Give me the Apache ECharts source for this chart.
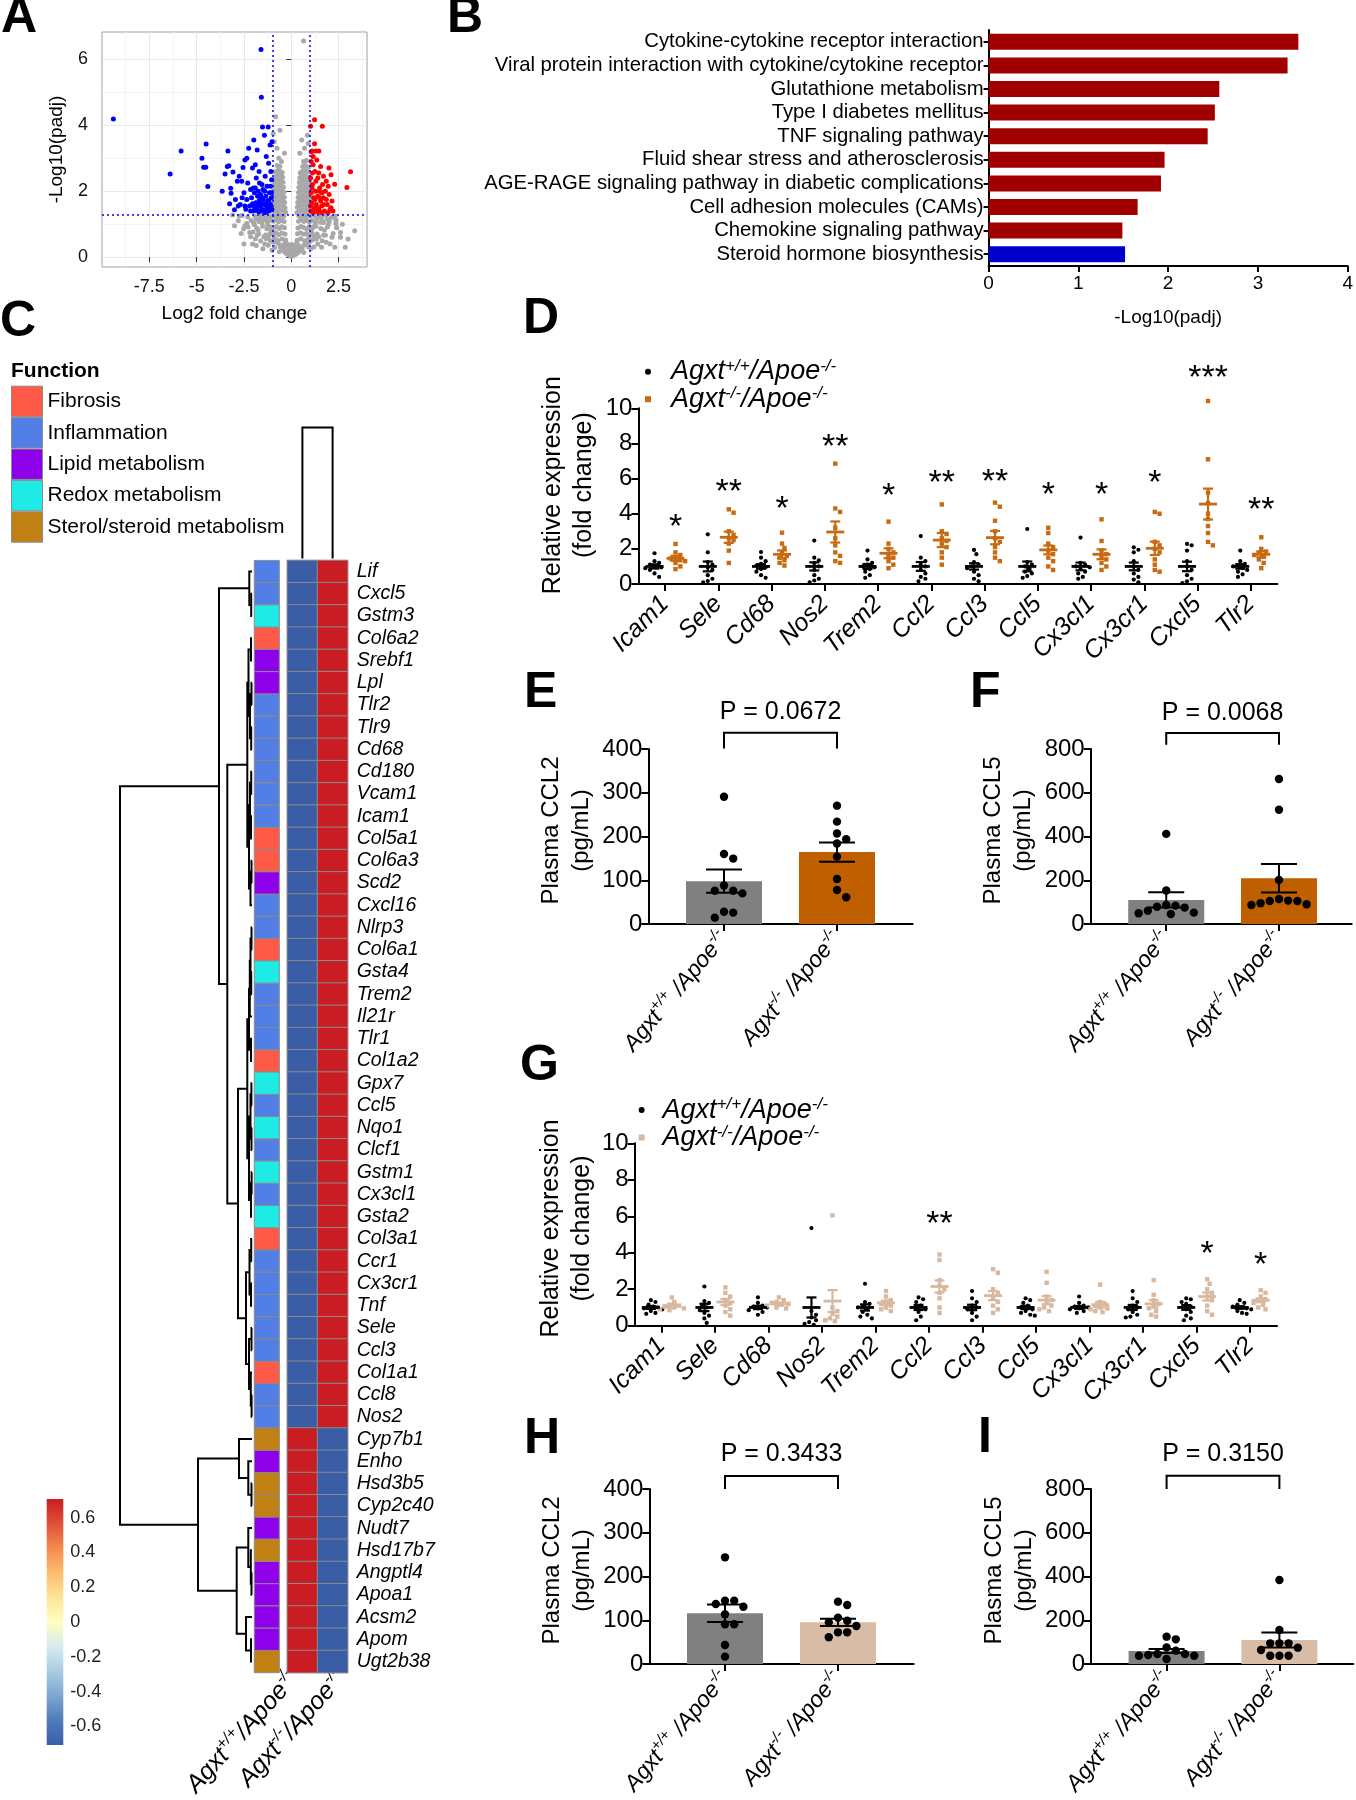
<!DOCTYPE html>
<html><head><meta charset="utf-8">
<script src="https://cdn.jsdelivr.net/npm/echarts@6/dist/echarts.min.js"></script>
<style>html,body{margin:0;padding:0;background:#fff}#c{width:1356px;height:1800px}</style>
</head><body><div id="c"></div>
<script>
// ================= DATA =================
// A: volcano plot  [log2FC, -log10(padj)]
const volcanoGray = [
[0.00,0.02],[-0.08,0.05],[0.09,0.04],[-0.18,0.08],[0.19,0.07],[-0.28,0.12],[0.27,0.10],[-0.38,0.17],[0.37,0.15],[-0.48,0.24],[0.47,0.21],[-0.58,0.30],[0.57,0.27],[-0.04,0.13],[0.05,0.11],[-0.14,0.19],[0.15,0.17],[-0.24,0.26],[0.23,0.22],[-0.33,0.31],[0.33,0.28],[-0.43,0.37],[0.43,0.34],[-0.68,0.41],[0.69,0.37],[-0.78,0.46],[0.79,0.43],[-0.12,0.32],[0.13,0.29],[-0.21,0.40],[0.21,0.37],[-0.88,0.29],[0.91,0.31],[-1.02,0.21],[1.04,0.26],[-1.22,0.36],[1.19,0.31],[-0.64,0.16],[0.66,0.14],[-0.02,0.24],[0.02,0.38],[-0.30,0.45],[0.30,0.44],
[-0.30,0.52],[-0.49,0.55],[-0.71,0.51],[-0.90,0.58],[-1.10,0.50],[-1.32,0.56],[-1.62,0.49],
[-0.33,0.70],[-0.50,0.73],[-0.66,0.68],[-0.81,0.74],[-0.96,0.69],[-1.12,0.72],[-1.36,0.67],[-1.72,0.71],[-2.02,0.76],
[-0.36,0.89],[-0.51,0.92],[-0.64,0.87],[-0.79,0.93],[-0.94,0.88],[-1.11,0.91],[-1.29,0.86],[-1.52,0.94],[-1.83,0.88],[-2.28,0.91],[-2.52,0.86],
[-0.38,1.08],[-0.53,1.12],[-0.67,1.07],[-0.81,1.13],[-0.95,1.09],[-1.09,1.12],[-1.26,1.06],[-1.46,1.13],[-1.71,1.08],[-2.12,1.11],
[-0.40,1.24],[-0.55,1.27],[-0.69,1.22],[-0.84,1.28],[-0.97,1.25],[-1.16,1.23],[-1.41,1.27],[-1.92,1.24],[-2.61,1.26],[-3.10,1.28],
[-0.30,1.36],[-0.42,1.40],[-0.57,1.43],[-0.71,1.38],[-0.85,1.42],[-0.96,1.39],
[-0.33,1.50],[-0.44,1.55],[-0.58,1.58],[-0.72,1.53],[-0.86,1.57],[-0.97,1.54],
[-0.35,1.66],[-0.46,1.70],[-0.60,1.73],[-0.74,1.68],[-0.88,1.72],[-0.98,1.69],
[-0.37,1.82],[-0.48,1.85],[-0.62,1.88],[-0.76,1.83],[-0.90,1.87],[-0.99,1.80],
[-0.39,1.97],[-0.50,2.00],[-0.64,2.03],[-0.78,1.98],[-0.93,2.02],
[-0.41,2.12],[-0.52,2.15],[-0.66,2.18],[-0.80,2.13],[-0.95,2.17],
[-0.44,2.27],[-0.55,2.30],[-0.68,2.33],[-0.83,2.28],[-0.96,2.34],
[-0.46,2.42],[-0.56,2.45],[-0.70,2.48],[-0.85,2.43],
[-0.48,2.57],[-0.58,2.60],[-0.72,2.63],[-0.88,2.58],
[-0.60,2.75],[-0.74,2.78],
[-0.83,4.26],[-0.60,3.85],[-0.36,3.15],[-0.90,3.50],[-0.75,3.30],[-0.52,2.90],[-0.66,3.00],[-0.95,3.75],
[0.31,0.51],[0.50,0.56],[0.70,0.50],[0.91,0.57],[1.11,0.52],[1.31,0.55],[1.63,0.50],
[0.33,0.71],[0.49,0.74],[0.66,0.69],[0.80,0.72],[0.96,0.68],[1.10,0.73],[1.36,0.70],[1.71,0.67],[2.21,0.72],
[0.35,0.88],[0.51,0.93],[0.65,0.90],[0.81,0.86],[0.95,0.92],[1.12,0.89],[1.30,0.94],[1.56,0.87],[1.91,0.91],[2.40,0.89],
[0.38,1.09],[0.52,1.13],[0.66,1.08],[0.81,1.12],[0.95,1.06],[1.10,1.11],[1.31,1.08],[1.61,1.13],[2.01,1.07],[2.36,1.12],
[0.40,1.25],[0.56,1.28],[0.70,1.23],[0.85,1.27],[0.98,1.24],[1.21,1.26],[1.51,1.23],[1.82,1.27],[2.31,1.25],
[0.30,1.35],[0.42,1.40],[0.56,1.43],[0.70,1.38],[0.84,1.42],[0.97,1.39],
[0.32,1.51],[0.44,1.55],[0.58,1.58],[0.72,1.53],[0.86,1.57],[0.98,1.54],
[0.34,1.66],[0.46,1.70],[0.60,1.73],[0.74,1.68],[0.88,1.72],[0.99,1.69],
[0.36,1.81],[0.48,1.85],[0.62,1.88],[0.76,1.83],[0.90,1.87],[0.99,1.82],
[0.38,1.96],[0.50,2.00],[0.64,2.03],[0.78,1.98],[0.92,2.02],
[0.40,2.11],[0.52,2.15],[0.66,2.18],[0.80,2.13],[0.95,2.17],
[0.43,2.26],[0.55,2.30],[0.68,2.33],[0.82,2.28],[0.96,2.32],
[0.45,2.41],[0.56,2.45],[0.70,2.48],[0.85,2.43],
[0.47,2.56],[0.58,2.60],[0.72,2.63],[0.90,2.58],
[0.60,2.75],[0.75,2.78],[0.92,2.73],
[0.65,2.90],[0.80,2.93],
[0.65,6.56],[0.55,3.55],[0.85,3.70],[0.70,3.30],[0.45,3.15],[0.90,3.45],
[-2.50,0.40],[-2.20,0.75],[-1.90,0.55],[-2.00,1.05],[2.30,0.30],[3.35,0.80],[2.40,0.90],[2.60,0.60],[-1.50,0.25],[1.60,0.30],[2.10,1.20],[-2.80,1.10],[2.70,1.00],[-1.85,0.35],[1.85,0.45],[-2.45,0.95],[-1.65,1.20],[1.70,1.05],
[-1.45,0.62],[-1.75,0.82],[-2.15,0.62],[-2.35,1.02],[-1.25,0.98],[-1.55,1.05],[-1.95,0.98],[-2.65,0.72],[-3.00,0.95],[-1.05,0.80],[-1.20,0.62],[-0.95,0.45],[-1.40,0.40],[-1.80,0.66],[-2.05,0.40],[-2.30,1.22],[-2.75,1.25],[-1.35,1.18],[-1.60,1.27],[-1.85,1.15],
[1.45,0.62],[1.75,0.82],[2.15,0.60],[2.35,1.02],[1.25,0.98],[1.55,1.05],[1.95,0.98],[2.60,0.75],[1.05,0.80],[1.20,0.62],[0.95,0.45],[1.40,0.40],[1.80,0.66],[2.05,0.40],[2.25,1.22],[1.35,1.18],[1.65,1.27],[1.90,1.15],[3.00,0.55],[2.85,0.30]
];
const volcanoDown = [
[-9.40,4.19],[-6.40,2.52],[-5.82,3.22],[-4.50,3.43],[-4.72,3.00],[-4.63,2.73],[-4.52,2.73],[-4.41,2.14],[-3.65,2.00],[-3.35,3.22],[-3.30,2.77],[-3.38,2.75],[-3.50,2.52],[-3.08,2.58],[-3.20,2.09],[-3.18,1.94],[-3.26,1.62],[-3.00,1.44],[-2.95,1.75],[-2.85,2.30],[-2.75,2.45],[-2.70,1.60],[-2.62,2.30],[-2.55,2.72],[-2.50,1.95],[-2.45,2.95],[-2.40,1.45],[-2.35,1.75],[-2.30,2.25],[-2.25,3.30],[-2.20,1.55],[-2.15,2.05],[-2.10,1.80],[-2.05,2.70],[-2.00,1.40],[-1.98,3.55],[-1.95,1.95],[-1.90,2.10],[-1.88,1.65],[-1.85,2.40],[-1.82,1.50],[-1.80,3.25],[-1.78,1.85],[-1.75,2.00],[-1.72,1.38],[-1.70,1.70],[-1.68,2.25],[-1.65,1.55],[-1.62,1.90],[-1.60,6.30],[-1.58,4.85],[-1.55,1.45],[-1.52,3.95],[-1.50,2.05],[-1.48,1.75],[-1.45,1.60],[-1.42,3.70],[-1.40,1.35],[-1.38,2.45],[-1.35,1.85],[-1.32,3.05],[-1.30,1.50],[-1.28,2.15],[-1.25,1.70],[-1.22,3.95],[-1.20,2.85],[-1.18,1.40],[-1.15,1.95],[-1.12,3.40],[-1.10,1.60],[-1.08,2.60],[-1.06,1.80],[-1.04,2.35],[-1.03,1.45],[-1.02,3.50],[-1.55,1.62],[-1.65,1.40],[-1.75,1.58],[-1.85,1.42],[-1.95,1.52],[-2.05,1.62],[-1.15,1.52],[-1.25,1.48],[-1.35,1.62],[-1.45,1.42],[-1.10,2.15],[-1.20,1.72],[-1.30,1.38],[-2.60,1.80],[-2.80,1.55],[-1.70,2.60],[-2.35,3.00],[-1.90,2.80],[-2.00,2.10],[-1.40,2.00],[-1.60,1.80],[-2.15,1.40],[-2.45,1.55],[-1.55,2.20],[-1.05,1.95]
];
const volcanoUp = [
[1.23,4.17],[1.64,3.97],[1.02,3.97],[1.23,3.44],[1.10,3.22],[1.30,3.22],[1.46,3.22],[3.13,2.59],[2.94,2.11],[2.29,2.21],[1.99,2.70],[2.10,2.50],[1.05,2.90],[1.15,2.80],[1.35,2.95],[1.55,2.75],[1.25,2.60],[1.45,2.55],[1.70,2.45],[1.85,2.30],[1.02,2.40],[1.12,2.20],[1.30,2.30],[1.50,2.10],[1.65,2.20],[1.80,2.00],[2.00,1.90],[2.15,1.70],[1.05,1.95],[1.18,1.80],[1.28,2.00],[1.40,1.85],[1.55,1.70],[1.70,1.80],[1.90,1.60],[2.05,1.45],[1.08,1.65],[1.20,1.50],[1.32,1.60],[1.45,1.45],[1.60,1.55],[1.75,1.40],[1.95,1.35],[2.10,1.50],[1.03,1.40],[1.15,1.35],[1.38,1.38],[1.50,1.80],[1.62,1.95],[1.25,1.75],[1.10,2.10],[1.35,1.50],[1.48,2.00],[1.85,1.75],[1.40,2.40],[1.58,1.35],[1.22,1.42],[1.72,1.60],[2.20,1.40],[1.02,1.55],[1.12,2.55],[1.95,2.15],[1.05,3.20],[1.15,3.05]
];
const lfcCut = 1;
const padjCut = 1.301;

// B: KEGG enrichment
const keggTerms = ['Cytokine-cytokine receptor interaction','Viral protein interaction with cytokine/cytokine receptor','Glutathione metabolism','Type I diabetes mellitus','TNF signaling pathway','Fluid shear stress and atherosclerosis','AGE-RAGE signaling pathway in diabetic complications','Cell adhesion molecules (CAMs)','Chemokine signaling pathway','Steroid hormone biosynthesis'];
const keggValues = [3.45,3.33,2.57,2.52,2.44,1.96,1.92,1.66,1.49,1.52];
const keggDirection = ['up','up','up','up','up','up','up','up','up','down'];

// C: heatmap
const heatGenes = ['Lif','Cxcl5','Gstm3','Col6a2','Srebf1','Lpl','Tlr2','Tlr9','Cd68','Cd180','Vcam1','Icam1','Col5a1','Col6a3','Scd2','Cxcl16','Nlrp3','Col6a1','Gsta4','Trem2','Il21r','Tlr1','Col1a2','Gpx7','Ccl5','Nqo1','Clcf1','Gstm1','Cx3cl1','Gsta2','Col3a1','Ccr1','Cx3cr1','Tnf','Sele','Ccl3','Col1a1','Ccl8','Nos2','Cyp7b1','Enho','Hsd3b5','Cyp2c40','Nudt7','Hsd17b7','Angptl4','Apoa1','Acsm2','Apom','Ugt2b38'];
const functionNames = ['Fibrosis','Inflammation','Lipid metabolism','Redox metabolism','Sterol/steroid metabolism'];
const heatFunction = ['Inflammation','Inflammation','Redox metabolism','Fibrosis','Lipid metabolism','Lipid metabolism','Inflammation','Inflammation','Inflammation','Inflammation','Inflammation','Inflammation','Fibrosis','Fibrosis','Lipid metabolism','Inflammation','Inflammation','Fibrosis','Redox metabolism','Inflammation','Inflammation','Inflammation','Fibrosis','Redox metabolism','Inflammation','Redox metabolism','Inflammation','Redox metabolism','Inflammation','Redox metabolism','Fibrosis','Inflammation','Inflammation','Inflammation','Inflammation','Inflammation','Fibrosis','Inflammation','Inflammation','Sterol/steroid metabolism','Lipid metabolism','Sterol/steroid metabolism','Sterol/steroid metabolism','Lipid metabolism','Sterol/steroid metabolism','Lipid metabolism','Lipid metabolism','Lipid metabolism','Lipid metabolism','Sterol/steroid metabolism'];
const heatSamples = ['WT','KO'];
const heatWT = [-0.707,-0.707,-0.707,-0.707,-0.707,-0.707,-0.707,-0.707,-0.707,-0.707,-0.707,-0.707,-0.707,-0.707,-0.707,-0.707,-0.707,-0.707,-0.707,-0.707,-0.707,-0.707,-0.707,-0.707,-0.707,-0.707,-0.707,-0.707,-0.707,-0.707,-0.707,-0.707,-0.707,-0.707,-0.707,-0.707,-0.707,-0.707,-0.707,0.707,0.707,0.707,0.707,0.707,0.707,0.707,0.707,0.707,0.707,0.707];
const heatKO = [0.707,0.707,0.707,0.707,0.707,0.707,0.707,0.707,0.707,0.707,0.707,0.707,0.707,0.707,0.707,0.707,0.707,0.707,0.707,0.707,0.707,0.707,0.707,0.707,0.707,0.707,0.707,0.707,0.707,0.707,0.707,0.707,0.707,0.707,0.707,0.707,0.707,0.707,0.707,-0.707,-0.707,-0.707,-0.707,-0.707,-0.707,-0.707,-0.707,-0.707,-0.707,-0.707];
// row dendrogram: [left, right, mergeHeight]; numbers are row indices
const rowTree = [
  [
    [0, [1, 2, 0.08], 0.27],
    [
      [[[3,4,0.1],[[5,6,0.05],[7,8,0.08],0.2],0.35],[[[9,10,0.08],[11,12,0.1],0.2],[[13,14,0.05],15,0.15],0.3],0.47],
      [
        [[[[[16,17,0.05],[18,19,0.08],0.15],20,0.22],[21,22,0.1],0.3],[[[23,24,0.06],[25,26,0.05],0.15],[[27,28,0.04],29,0.1],0.3],0.47],
        [[[30,31,0.08],[32,33,0.1],0.25],[[34,35,0.05],[36,[37,38,0.04],0.12],0.3],0.6],
        1.4
      ],
      2.47
    ],
    3.3
  ],
  [
    [39, [40, [41, 42, 0.05], 0.37], 1.3],
    [[43, [44, [45, 46, 0.05], 0.12], 0.37], [47, [48, 49, 0.1], 0.6], 1.53],
    5.4
  ],
  13.2
];
const colTreeHeight = 1;
const colorbarMin = -0.707, colorbarMax = 0.707;
const colorbarTicks = [-0.6,-0.4,-0.2,0,0.2,0.4,0.6];

// D and G: qPCR
const qpcrGenes = ['Icam1','Sele','Cd68','Nos2','Trem2','Ccl2','Ccl3','Ccl5','Cx3cl1','Cx3cr1','Cxcl5','Tlr2'];
const dWT = [
 [1.75,1.3,1.2,1.1,1.0,0.95,0.9,0.8,0.6,0.4],
 [2.83,1.8,1.25,1.1,0.95,0.8,0.5,0.3,0.17,0.1],
 [1.82,1.5,1.3,1.15,1.05,0.95,0.85,0.7,0.5,0.35],
 [2.47,1.5,1.35,1.2,1.0,0.8,0.5,0.3,0.2,0.1],
 [1.9,1.4,1.2,1.1,1.0,0.95,0.85,0.7,0.5,0.35],
 [2.73,1.5,1.3,1.1,1.0,0.8,0.6,0.4,0.3,0.15],
 [1.94,1.7,1.25,1.1,1.0,0.9,0.7,0.5,0.3,0.15],
 [3.13,1.25,1.1,1.0,0.85,0.7,0.6,0.45,0.35],
 [2.64,1.2,1.1,1.0,0.95,0.85,0.7,0.6,0.4,0.3],
 [2.09,1.95,1.8,1.3,1.0,0.8,0.6,0.4,0.25,0.1],
 [2.28,2.2,1.9,1.3,1.0,0.8,0.5,0.3,0.15,0.05],
 [1.9,1.3,1.15,1.05,1.0,0.9,0.8,0.7,0.55,0.4]
];
const dKO = [
 [2.28,1.8,1.65,1.5,1.45,1.35,1.3,1.2,1.0,0.85],
 [4.25,4.06,3.0,2.8,2.6,2.5,2.3,1.9,1.2],
 [2.92,2.3,2.05,1.75,1.6,1.5,1.35,1.2,1.05],
 [6.85,4.3,4.1,3.2,2.6,2.2,1.8,1.6,1.3,1.2],
 [3.55,2.3,2.0,1.8,1.6,1.5,1.3,1.1,0.9],
 [4.53,3.0,2.85,2.6,2.45,2.3,2.1,1.8,1.5,1.1],
 [4.63,4.4,3.6,3.0,2.6,2.4,2.1,1.8,1.5,1.3],
 [3.2,2.9,2.3,2.1,1.9,1.7,1.5,1.3,1.0,0.8],
 [3.68,2.45,1.9,1.7,1.55,1.4,1.2,1.0,0.8],
 [4.1,4.0,2.4,2.2,2.0,1.8,1.4,1.1,0.8,0.7],
 [10.42,7.1,5.2,4.6,4.0,3.7,3.3,2.9,2.4,2.2],
 [2.66,2.0,1.85,1.75,1.65,1.55,1.4,1.2,0.9]
];
const dWTMean = [1,1,1,1,1,1,1,1,1,1,1,1];
const dWTSem = [0.12,0.28,0.13,0.23,0.14,0.25,0.18,0.28,0.22,0.22,0.27,0.13];
const dKOMean = [1.46,2.66,1.69,2.96,1.75,2.5,2.64,1.94,1.69,2.03,4.55,1.69];
const dKOSem = [0.15,0.32,0.22,0.6,0.28,0.4,0.38,0.25,0.28,0.38,0.88,0.17];
const dStars = ['*','**','*','**','*','**','**','*','*','*','***','**'];
const dStarY = [3.6,5.6,4.65,8.18,5.39,6.09,6.17,5.41,5.45,6.09,12.09,4.57];

const gWT = [
 [1.4,1.3,1.15,1.05,1.0,0.95,0.9,0.8,0.7,0.65],
 [2.15,1.35,1.25,1.1,1.0,0.85,0.7,0.55,0.4,0.15],
 [1.55,1.25,1.1,1.05,1.0,0.95,0.85,0.75,0.6],
 [5.35,0.8,0.6,0.45,0.3,0.2,0.1,0.05],
 [2.3,1.3,1.2,1.05,1.0,0.9,0.75,0.6,0.5,0.4],
 [1.55,1.45,1.3,1.1,1.0,0.9,0.75,0.5,0.3],
 [1.9,1.5,1.3,1.1,1.0,0.9,0.7,0.5,0.3],
 [1.5,1.4,1.25,1.1,1.0,0.9,0.8,0.7,0.6,0.55],
 [1.6,1.25,1.1,1.05,1.0,0.95,0.9,0.8,0.7],
 [1.9,1.5,1.3,1.1,1.0,0.9,0.75,0.6,0.5,0.45],
 [1.5,1.45,1.3,1.2,1.05,0.9,0.75,0.55,0.4,0.3],
 [1.4,1.25,1.15,1.05,1.0,0.95,0.9,0.8,0.7,0.65]
];
const gKO = [
 [1.55,1.3,1.15,1.1,1.05,1.0,0.95,0.9,0.85],
 [2.1,1.8,1.6,1.4,1.25,1.1,0.9,0.75,0.55],
 [1.55,1.4,1.3,1.25,1.2,1.15,1.1,1.0,0.95],
 [6.05,1.0,0.8,0.65,0.5,0.4,0.3,0.25],
 [1.9,1.6,1.4,1.3,1.2,1.1,1.0,0.9,0.8],
 [3.9,3.6,2.5,2.2,2.0,1.8,1.5,1.0,0.7],
 [3.1,2.9,2.0,1.8,1.5,1.3,1.1,0.9,0.7],
 [2.95,2.35,1.6,1.4,1.25,1.1,1.0,0.9,0.8],
 [2.25,1.3,1.2,1.1,1.0,0.95,0.9,0.8,0.75],
 [2.5,1.7,1.4,1.2,1.05,0.95,0.8,0.6,0.5],
 [2.55,2.3,2.0,1.8,1.6,1.4,1.1,0.8,0.6],
 [1.95,1.8,1.6,1.45,1.35,1.25,1.15,1.0,0.9]
];
const gWTMean = [1,1,1,1,1,1,1,1,1,1,1,1];
const gWTSem = [0.08,0.2,0.09,0.55,0.17,0.14,0.15,0.09,0.08,0.14,0.13,0.07];
const gKOMean = [1.1,1.3,1.2,1.35,1.25,2.15,1.65,1.4,1.15,1.2,1.6,1.4];
const gKOSem = [0.08,0.17,0.07,0.6,0.13,0.33,0.25,0.22,0.15,0.2,0.22,0.1];
const gStars = ['','','','','','**','','','','','*','*'];
const gStarY = [0,0,0,0,0,5.94,0,0,0,0,4.3,3.69];

// E, F, H, I: plasma chemokines (pg/mL)
const eWT = [291,160,149.5,76,70,76,88,28,26,14.5];
const eKO = [270.5,234,207,194,184,154,103,77.7,61];
const eMean = [98,164.5], eSem = [26.7,22];
const eP = 'P = 0.0672', eBracket = [401,437,485];
const fWT = [412,153,61,52,75,79,87,49,84,46];
const fKO = [662.6,522,201.5,105,105,95,107,90,114.5,87];
const fMean = [110,209], fSem = [35,65];
const fP = 'P = 0.0068', fBracket = [820,873,965];
const hWT = [243.8,131,144.8,144.8,137,113.5,90.7,90.7,43.4,16.8];
const hKO = [142.5,134.9,86.9,72.4,95.2,105.9,99,72.4,61];
const hMean = [116,95.2], hSem = [20,8.5];
const hP = 'P = 0.3433', hBracket = [400,430,480];
const iWT = [125,112.8,45.7,45.7,38,38,76,41,61,22.9];
const iKO = [384,155.4,74.7,94.5,94.5,94.5,64,38,38,38];
const iMean = [59.4,109.7], iSem = [9,34];
const iP = 'P = 0.3150', iBracket = [800,861,960];

// ================= RENDER =================
const FONT = '"Liberation Sans", Arial, Helvetica, sans-serif';
const chart = echarts.init(document.getElementById('c'));
const heatColors = ['#3A5DA6','#4F7CBA','#7BA7D0','#A9CCE3','#D7EBF1','#FFFFBF','#FEE39A','#FDBD6F','#F58A4F','#E0503A','#C91D23'];
const funcColors = {'Fibrosis':'#FF5A47','Inflammation':'#527FE6','Lipid metabolism':'#8E00EA','Redox metabolism':'#1EEBE6','Sterol/steroid metabolism':'#C08014'};
const ORANGE_DOT = '#C86A10', ORANGE_BAR = '#BF5F00', BEIGE_DOT = '#D8B89E', BEIGE_BAR = '#D8BCA6', GRAY_BAR = '#808080';

const grids = [], xAxes = [], yAxes = [], series = [];
function addGrid(g, x, y) {
  grids.push(Object.assign({containLabel:false}, g));
  const i = grids.length - 1;
  xAxes.push(Object.assign({gridIndex:i}, x));
  yAxes.push(Object.assign({gridIndex:i}, y));
  return i;
}
function richSup(base, sup, lh) {
  return {
    i:{fontStyle:'italic', fontSize:base, lineHeight:lh || base+6, fontFamily:FONT, color:'#000'},
    s:{fontStyle:'italic', fontSize:sup, lineHeight:sup, verticalAlign:'top', fontFamily:FONT, color:'#000'}
  };
}
const genoLabel = (g, sp) => g === 'WT' ? '{i|Agxt}{s|+/+}{i|' + sp + '/Apoe}{s|-/-}' : '{i|Agxt}{s|-/-}{i|' + sp + '/Apoe}{s|-/-}';
const hidden = {show:false};
const blackLine = {show:true, onZero:false, lineStyle:{color:'#000', width:2}};
const blackTick = {show:true, length:7, lineStyle:{color:'#000', width:2}};

function swarm(values, pxPerUnit, step) {
  const order = values.map((v,i)=>i).sort((a,b)=>values[b]-values[a]);
  const placed = [], out = new Array(values.length).fill(0);
  for (const i of order) {
    const y = values[i]*pxPerUnit;
    let k = 0, done = false;
    while (!done) {
      const cands = k === 0 ? [0] : [k*step/2, -k*step/2];
      for (const x of cands) {
        if (!placed.some(p => Math.hypot(p.x-x, p.y-y) < step - 0.01)) { placed.push({x,y}); out[i] = x; done = true; break; }
      }
      k++;
    }
  }
  return out;
}
function dotSeries(name, gi, groups, offsetPx, color, shape, size, pxPerUnit, step) {
  const data = [];
  groups.forEach((vals, c) => { const off = swarm(vals, pxPerUnit, step); vals.forEach((v,j)=>data.push([c, v, off[j]])); });
  series.push({
    type:'custom', name, xAxisIndex:gi, yAxisIndex:gi, data, encode:{x:0,y:1}, clip:false, silent:true,
    itemStyle:{color},
    renderItem:(params, api) => {
      const p = api.coord([api.value(0), api.value(1)]);
      const x = p[0] + offsetPx + api.value(2);
      if (shape === 'circle') return {type:'circle', shape:{cx:x, cy:p[1], r:size/2}, style:{fill:color}};
      return {type:'rect', shape:{x:x-size/2, y:p[1]-size/2, width:size, height:size}, style:{fill:color}};
    }
  });
}
function meanSemSeries(gi, means, sems, offsetPx, color, meanHalf, capHalf, lw) {
  series.push({
    type:'custom', xAxisIndex:gi, yAxisIndex:gi, clip:false, silent:true, z:4,
    data: means.map((m,i)=>[i, m, sems[i]]), encode:{x:0,y:1},
    renderItem:(params, api) => {
      const c = api.value(0), m = api.value(1), s = api.value(2);
      const pm = api.coord([c, m]), pt = api.coord([c, m+s]), pb = api.coord([c, m-s]);
      const x = pm[0] + offsetPx;
      const st = {stroke:color, lineWidth:lw};
      const ch = [
        {type:'line', shape:{x1:x, y1:pt[1], x2:x, y2:pb[1]}, style:st},
        {type:'line', shape:{x1:x-capHalf, y1:pt[1], x2:x+capHalf, y2:pt[1]}, style:st},
        {type:'line', shape:{x1:x-capHalf, y1:pb[1], x2:x+capHalf, y2:pb[1]}, style:st}
      ];
      if (meanHalf > 0) ch.push({type:'line', shape:{x1:x-meanHalf, y1:pm[1], x2:x+meanHalf, y2:pm[1]}, style:{stroke:color, lineWidth:lw+0.6}});
      return {type:'group', children:ch};
    }
  });
}
function starSeries(gi, stars, ys, offsetPx) {
  const data = [];
  stars.forEach((s,i)=>{ if (s) data.push([i, ys[i], s]); });
  series.push({
    type:'custom', xAxisIndex:gi, yAxisIndex:gi, clip:false, silent:true, z:5,
    data: data.map(d=>[d[0], d[1]]), encode:{x:0,y:1},
    renderItem:(params, api) => {
      const p = api.coord([api.value(0), api.value(1)]);
      return {type:'text', x:p[0]+offsetPx, y:p[1]+7, style:{text:data[params.dataIndex][2], fontSize:34, fontFamily:FONT, fill:'#000', align:'center', verticalAlign:'middle'}};
    }
  });
}

// ---------- Panel A ----------
const gA = addGrid({left:102, top:32, width:265, height:235, show:true, borderColor:'#a0a0a0', borderWidth:1},
  {type:'value', min:-10, max:4, interval:2.5,
   axisLine:hidden, axisTick:{show:true, customValues:[-7.5,-5,-2.5,0,2.5], length:5, lineStyle:{color:'#333'}},
   axisLabel:{customValues:[-7.5,-5,-2.5,0,2.5], fontSize:18, color:'#111', margin:11},
   splitLine:{show:true, lineStyle:{color:'#e8e8e8'}}, minorTick:{show:false, splitNumber:2}, minorSplitLine:{show:true, lineStyle:{color:'#f4f4f4'}},
   name:'Log2 fold change', nameLocation:'middle', nameGap:37, nameTextStyle:{fontSize:19, color:'#000'}},
  {type:'value', min:-0.3, max:6.83, splitNumber:3,
   axisLine:hidden, axisTick:{show:true, customValues:[0,2,4,6], length:5, lineStyle:{color:'#333'}},
   axisLabel:{customValues:[0,2,4,6], fontSize:18, color:'#111', margin:14},
   splitLine:{show:true, lineStyle:{color:'#e8e8e8'}}, minorTick:{show:false, splitNumber:2}, minorSplitLine:{show:true, lineStyle:{color:'#f4f4f4'}},
   name:'-Log10(padj)', nameLocation:'middle', nameGap:36, nameTextStyle:{fontSize:19, color:'#000'}});
series.push({type:'scatter', xAxisIndex:gA, yAxisIndex:gA, data:volcanoGray, symbolSize:5, itemStyle:{color:'#A8A8A8', opacity:1}, silent:true, z:2});
series.push({type:'scatter', xAxisIndex:gA, yAxisIndex:gA, data:volcanoDown, symbolSize:5, itemStyle:{color:'#0000FF', opacity:1}, silent:true, z:3});
series.push({type:'scatter', xAxisIndex:gA, yAxisIndex:gA, data:volcanoUp, symbolSize:5, itemStyle:{color:'#FF0000', opacity:1}, silent:true, z:3});
series.push({type:'scatter', xAxisIndex:gA, yAxisIndex:gA, data:[], z:6, silent:true,
  markLine:{silent:true, symbol:'none', label:{show:false}, lineStyle:{color:'#0000FF', type:[2,3], width:1.5},
    data:[{xAxis:-lfcCut},{xAxis:lfcCut},{yAxis:padjCut}]}});

// ---------- Panel B ----------
const gB = addGrid({left:988.6, top:30, width:361.2, height:236},
  {type:'value', min:0, max:4, interval:1, axisLine:{show:true, lineStyle:{color:'#000', width:2}}, axisTick:{show:true, length:6, lineStyle:{color:'#000', width:2}},
   axisLabel:{fontSize:19, color:'#000', margin:8}, splitLine:{show:false},
   name:'-Log10(padj)', nameLocation:'middle', nameGap:42, nameTextStyle:{fontSize:19, color:'#000'}},
  {type:'category', data:keggTerms, inverse:true, axisLine:{show:true, lineStyle:{color:'#000', width:2}},
   axisTick:{show:true, alignWithLabel:true, interval:0, length:5, lineStyle:{color:'#000', width:2}}, axisLabel:{interval:0, fontSize:20.3, color:'#000', margin:5}});
series.push({type:'bar', xAxisIndex:gB, yAxisIndex:gB, barWidth:16, silent:true,
  data: keggValues.map((v,i)=>({value:v, itemStyle:{color: keggDirection[i]==='up' ? '#A00000' : '#0000CC'}}))});

// ---------- Panel C ----------
const heatTop = 560.4, heatH = 1112.3;
const gAnn = addGrid({left:254.3, top:heatTop, width:25, height:heatH},
  {type:'category', data:['Function'], show:false},
  {type:'category', data:heatGenes, inverse:true, show:false});
functionNames.forEach(fn => {
  const rows = [];
  heatFunction.forEach((f,i)=>{ if (f === fn) rows.push([0, i]); });
  series.push({type:'custom', name:fn, xAxisIndex:gAnn, yAxisIndex:gAnn, data:rows, encode:{x:0,y:1}, silent:true,
    itemStyle:{color:funcColors[fn]},
    renderItem:(params, api) => {
      const p = api.coord([api.value(0), api.value(1)]), s = api.size([1,1]);
      return {type:'rect', shape:{x:p[0]-s[0]/2, y:p[1]-s[1]/2, width:s[0], height:s[1]}, style:{fill:funcColors[fn], stroke:'#8a8a8a', lineWidth:1}};
    }});
});
const gHeat = addGrid({left:287.3, top:heatTop, width:60.4, height:heatH},
  {type:'category', data:heatSamples, show:false},
  {type:'category', data:heatGenes, inverse:true, position:'right', axisLine:hidden, axisTick:hidden,
   axisLabel:{interval:0, fontSize:19.5, fontStyle:'italic', color:'#000', margin:9}});
const heatData = [];
heatGenes.forEach((g,i)=>{ heatData.push([0, i, heatWT[i]]); heatData.push([1, i, heatKO[i]]); });
series.push({id:'heat', type:'heatmap', xAxisIndex:gHeat, yAxisIndex:gHeat, data:heatData, silent:true,
  itemStyle:{borderColor:'#8a8a8a', borderWidth:1}});
// column labels of the heatmap (label-only axis, spread like pheatmap's rotated labels)
const gHeatLab = addGrid({left:270.5, top:heatTop, width:94, height:heatH},
  {type:'category', data:heatSamples, axisLine:hidden, axisTick:hidden,
   axisLabel:{interval:0, rotate:48, margin:9, formatter:(v)=>genoLabel(v, ''), rich:richSup(25, 16)}},
  {type:'value', show:false});

// row dendrogram
const gRow = addGrid({left:120, top:heatTop, width:132, height:heatH},
  {type:'value', min:0, max:rowTree[2], inverse:true, show:false},
  {type:'value', min:-0.5, max:heatGenes.length-0.5, inverse:true, show:false});
const rowSegs = [];
(function layout(node){
  if (typeof node === 'number') return {pos:node, h:0};
  const a = layout(node[0]), b = layout(node[1]), h = node[2];
  rowSegs.push([[a.h, a.pos],[h, a.pos],[h, b.pos],[b.h, b.pos]]);
  return {pos:(a.pos+b.pos)/2, h};
})(rowTree);
series.push({type:'lines', coordinateSystem:'cartesian2d', xAxisIndex:gRow, yAxisIndex:gRow, polyline:true, clip:false, silent:true,
  data: rowSegs.map(c=>({coords:c})), lineStyle:{color:'#000', width:2, opacity:1}});
// column dendrogram
const gCol = addGrid({left:287.3, top:427.5, width:60.4, height:131.1},
  {type:'value', min:-0.5, max:1.5, show:false},
  {type:'value', min:0, max:colTreeHeight, show:false});
series.push({type:'lines', coordinateSystem:'cartesian2d', xAxisIndex:gCol, yAxisIndex:gCol, polyline:true, clip:false, silent:true,
  data:[{coords:[[0,0],[0,colTreeHeight],[1,colTreeHeight],[1,0]]}], lineStyle:{color:'#000', width:2, opacity:1}});
// colorbar
const gCb = addGrid({left:46.7, top:1499, width:16.6, height:246},
  {type:'value', min:0, max:1, show:false},
  {type:'value', min:colorbarMin, max:colorbarMax, position:'right', axisLine:hidden, axisTick:hidden, splitLine:hidden,
   axisLabel:{customValues:colorbarTicks, fontSize:18, color:'#222', margin:7}});
series.push({type:'custom', xAxisIndex:gCb, yAxisIndex:gCb, data:[[0,0]], silent:true, clip:false,
  renderItem:(params, api) => {
    const a = api.coord([0, colorbarMin]), b = api.coord([1, colorbarMax]);
    return {type:'rect', shape:{x:a[0], y:b[1], width:b[0]-a[0], height:a[1]-b[1]},
      style:{fill:new echarts.graphic.LinearGradient(0,1,0,0, heatColors.map((c,i)=>({offset:i/(heatColors.length-1), color:c})))}};
  }});

// ---------- Panels D and G ----------
function qpcrPanel(prefix, grid, wt, ko, wtMean, wtSem, koMean, koSem, stars, starY, koColor, nameGap, nameShift) {
  const gi = addGrid(grid,
    {type:'category', data:qpcrGenes, axisLine:{show:true, lineStyle:{color:'#000', width:2}},
     axisTick:{show:true, alignWithLabel:true, length:7, lineStyle:{color:'#000', width:2}},
     axisLabel:{interval:0, rotate:45, fontSize:25, fontStyle:'italic', color:'#000', margin:16}},
    {type:'value', min:0, max:10, interval:2, axisLine:blackLine, axisTick:blackTick,
     axisLabel:{fontSize:24, color:'#000', margin:6}, splitLine:hidden,
     name:'Relative expression\n(fold change)', nameLocation:'middle', nameGap:nameGap,
     nameTextStyle:{fontSize:25, lineHeight:31, color:'#000', padding:[0,0,0,nameShift]}});
  const ppu = grid.height/10;
  dotSeries(prefix+'_WT', gi, wt, -10.5, '#000', 'circle', 4.2, ppu, 4.6);
  dotSeries(prefix+'_KO', gi, ko, 10.5, koColor, 'rect', 4.4, ppu, 4.8);
  meanSemSeries(gi, wtMean, wtSem, -10.5, '#000', 9, 5, 2.2);
  meanSemSeries(gi, koMean, koSem, 10.5, koColor, 9, 5, 2.2);
  starSeries(gi, stars, starY, 10.5);
  return gi;
}
qpcrPanel('D', {left:638.4, top:408.3, width:639, height:175.7}, dWT, dKO, dWTMean, dWTSem, dKOMean, dKOSem, dStars, dStarY, ORANGE_DOT, 39, 22);
qpcrPanel('G', {left:634.6, top:1143.3, width:642.4, height:182.4}, gWT, gKO, gWTMean, gWTSem, gKOMean, gKOSem, gStars, gStarY, BEIGE_DOT, 35, 12);

// ---------- Panels E F H I ----------
const plasmaRich = richSup(23, 15);
function plasmaPanel(grid, xmax, ymax, yint, yname, wt, ko, mean, sem, koColor, pText, bracket, nameGap) {
  const gi = addGrid(grid,
    {type:'value', min:-0.67, max:xmax, axisLine:blackLine,
     axisTick:{show:true, customValues:[0,1], length:7, lineStyle:{color:'#000', width:2}},
     axisLabel:{customValues:[0,1], rotate:50, margin:11, formatter:(v)=>genoLabel(v===0 ? 'WT' : 'KO', ' '), rich:plasmaRich},
     splitLine:hidden},
    {type:'value', min:0, max:ymax, interval:yint, axisLine:blackLine, axisTick:blackTick,
     axisLabel:{fontSize:24, color:'#000', margin:6}, splitLine:hidden,
     name:yname, nameLocation:'middle', nameGap:nameGap, nameTextStyle:{fontSize:24, lineHeight:30, color:'#000', padding:[0,0,0,12]}});
  const colors = [GRAY_BAR, koColor];
  series.push({type:'custom', xAxisIndex:gi, yAxisIndex:gi, silent:true, clip:false, z:2,
    data: mean.map((m,i)=>[i,m]), encode:{x:0,y:1},
    renderItem:(params, api) => {
      const p0 = api.coord([api.value(0), 0]), p1 = api.coord([api.value(0), api.value(1)]);
      return {type:'rect', shape:{x:p0[0]-38, y:p1[1], width:76, height:p0[1]-p1[1]}, style:{fill:colors[params.dataIndex]}};
    }});
  const ppu = grid.height/ymax;
  const data = [];
  [wt, ko].forEach((vals,c)=>{ const off = swarm(vals, ppu, 9.2); vals.forEach((v,j)=>data.push([c, v, off[j]])); });
  series.push({type:'custom', xAxisIndex:gi, yAxisIndex:gi, silent:true, clip:false, z:3, data, encode:{x:0,y:1},
    renderItem:(params, api) => {
      const p = api.coord([api.value(0), api.value(1)]);
      return {type:'circle', shape:{cx:p[0]+api.value(2), cy:p[1], r:4.2}, style:{fill:'#000'}};
    }});
  meanSemSeries(gi, mean, sem, 0, '#000', 0, 18, 2);
  series.push({type:'custom', xAxisIndex:gi, yAxisIndex:gi, silent:true, clip:false, z:5,
    data:[[0, bracket[0]]], encode:{x:0,y:1},
    renderItem:(params, api) => {
      const a = api.coord([0, bracket[0]]), b = api.coord([0, bracket[1]]), c = api.coord([1, bracket[1]]), d = api.coord([1, bracket[0]]);
      const t = api.coord([0.5, bracket[2]]);
      return {type:'group', children:[
        {type:'polyline', shape:{points:[a,b,c,d]}, style:{stroke:'#000', lineWidth:2, fill:null}},
        {type:'text', x:t[0], y:t[1], style:{text:pText, fontSize:25, fontFamily:FONT, fill:'#000', align:'center', verticalAlign:'middle'}}
      ]};
    }});
  return gi;
}
plasmaPanel({left:648.3, top:749, width:264.4, height:175}, 1.67, 400, 100, 'Plasma CCL2\n(pg/mL)', eWT, eKO, eMean, eSem, ORANGE_BAR, eP, eBracket, 52);
plasmaPanel({left:1090.7, top:749, width:261, height:175}, 1.645, 800, 200, 'Plasma CCL5\n(pg/mL)', fWT, fKO, fMean, fSem, ORANGE_BAR, fP, fBracket, 52);
plasmaPanel({left:649.3, top:1489, width:264.4, height:175}, 1.67, 400, 100, 'Plasma CCL2\n(pg/mL)', hWT, hKO, hMean, hSem, BEIGE_BAR, hP, hBracket, 52);
plasmaPanel({left:1091, top:1489, width:262.3, height:175}, 1.655, 800, 200, 'Plasma CCL5\n(pg/mL)', iWT, iKO, iMean, iSem, BEIGE_BAR, iP, iBracket, 52);

const heatSeriesIndex = series.findIndex(s => s.id === 'heat');
const legRich = richSup(27, 17, 28);
const legFmt = n => genoLabel(n.endsWith('WT') ? 'WT' : 'KO', '');

const letters = [['A',1,18],['B',447,18],['C',0,322],['D',523,319],['E',524,693],['F',970,693],['G',520,1066],['H',524,1439],['I',978,1438]];

chart.setOption({
  animation:false,
  backgroundColor:'#fff',
  textStyle:{fontFamily:FONT, color:'#000'},
  grid:grids, xAxis:xAxes, yAxis:yAxes, series,
  visualMap:[{type:'continuous', show:false, min:colorbarMin, max:colorbarMax, dimension:2, seriesIndex:heatSeriesIndex, inRange:{color:heatColors}}],
  legend:[
    {data:functionNames, orient:'vertical', left:11, top:385.7, itemWidth:31, itemHeight:30.4, itemGap:0, icon:'rect', padding:0, selectedMode:false,
     itemStyle:{borderColor:'#8a8a8a', borderWidth:1}, textStyle:{fontSize:21, color:'#000', fontFamily:FONT}},
    {data:[{name:'D_WT', icon:'circle'},{name:'D_KO', icon:'rect'}], orient:'vertical', left:645, top:357.7, itemWidth:6, itemHeight:6, itemGap:0, padding:0, selectedMode:false,
     formatter:legFmt, textStyle:{rich:legRich, padding:[0,0,0,15]}},
    {data:[{name:'G_WT', icon:'circle'},{name:'G_KO', icon:'rect'}], orient:'vertical', left:638.6, top:1096, itemWidth:6, itemHeight:6, itemGap:0, padding:0, selectedMode:false,
     formatter:legFmt, textStyle:{rich:legRich, padding:[0,0,0,13]}}
  ],
  graphic: letters.map(l => ({type:'text', x:l[1], y:l[2], silent:true, style:{text:l[0], fontSize:50, fontWeight:'bold', fontFamily:FONT, fill:'#000', align:'left', verticalAlign:'middle'}}))
    .concat([{type:'text', x:11, y:371, silent:true, style:{text:'Function', fontSize:21, fontWeight:'bold', fontFamily:FONT, fill:'#000', align:'left', verticalAlign:'middle'}}])
});
</script></body></html>
